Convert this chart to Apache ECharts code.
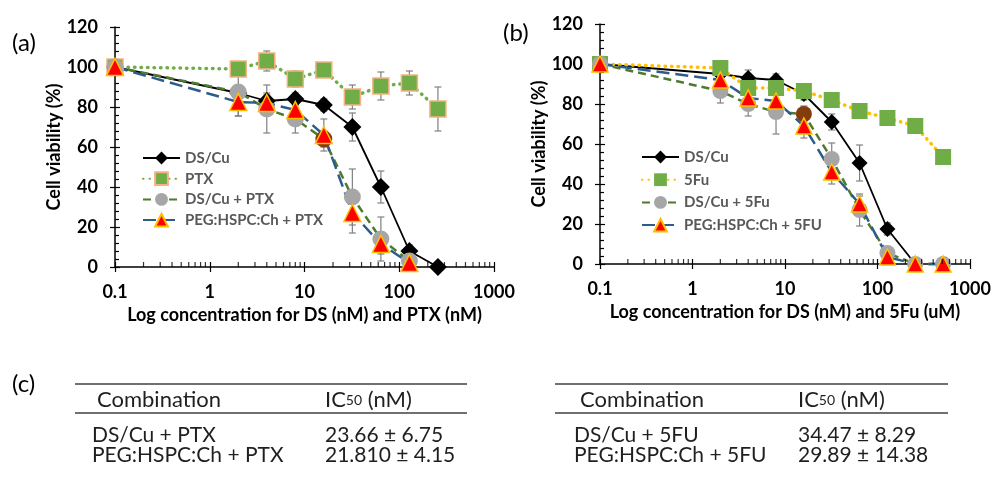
<!DOCTYPE html>
<html><head><meta charset="utf-8">
<script src="https://cdn.jsdelivr.net/npm/echarts@6/dist/echarts.min.js"></script>
<style>html,body{margin:0;padding:0;background:#fff}#c{width:992px;height:479px}</style>
</head><body><div id="c"></div><script>
// ---- data ----
const concA = [0.1, 2, 4, 8, 16, 32, 64, 128, 256];
const dsCuA = [100, 87, 83, 84, 81, 70, 40, 8, 0];
const dsCuAErr = [0, 3, 3, 3, 3, 7, 8, 3, 0];
const ptxA = [100, 99, 103, 94, 98.5, 85, 90.5, 92, 79];
const ptxAErr = [0, 2, 5, 4, 2, 6, 7, 6, 11];
const comboA = [100, 87.5, 79, 74, 64, 35, 14, 3];
const comboAErr = [0, 12, 12, 7, 4, 14, 11, 2];
const pegA = [100, 82.5, 82, 78.5, 66, 27, 11.5, 2];
const pegAErr = [0, 7, 5, 5, 8, 10, 5, 2];

const concB = [0.1, 2, 4, 8, 16, 32, 64, 128, 256, 512];
const dsCuB = [100, 95, 93, 92, 85, 71, 50.5, 17.5, 0];
const dsCuBErr = [0, 2, 4, 3, 3, 4, 9, 3, 0];
const fuB = [100, 98, 88, 88, 86.5, 82, 76.5, 73, 69, 53.5];
const fuBErr = [0, 1, 2, 2, 2, 1, 3, 2, 1, 3];
const comboB = [100, 86.5, 80, 76, 75, 52.5, 27, 5.5, 0, 0];
const comboBErr = [0, 6, 6, 11, 4, 8, 8, 3, 0, 0];
const pegB = [100, 92, 83, 81.5, 69, 46, 30, 3.5, 0, 0];
const pegBErr = [0, 3, 3, 3, 6, 6, 4, 3, 0, 0];

const namesA = ['DS/Cu', 'PTX', 'DS/Cu + PTX', 'PEG:HSPC:Ch + PTX'];
const namesB = ['DS/Cu', '5Fu', 'DS/Cu + 5Fu', 'PEG:HSPC:Ch + 5FU'];
const yTicks = [0, 20, 40, 60, 80, 100, 120];
const xMin = 0.1, xMax = 1000;
const highlightConc = 16; // point drawn in brown in the combination series

const tableHeader = ['Combination', 'IC50 (nM)'];
const tableA = [['DS/Cu + PTX', '23.66 ± 6.75'], ['PEG:HSPC:Ch + PTX', '21.810 ± 4.15']];
const tableB = [['DS/Cu + 5FU', '34.47 ± 8.29'], ['PEG:HSPC:Ch + 5FU', '29.89 ± 14.38']];

// ---- helpers ----
const FONT = 'Lato';
function pairs(xs, ys, brown) {
  return ys.map((v, i) => (brown && xs[i] === highlightConc)
    ? { value: [xs[i], v], itemStyle: { color: '#843C0C' } }
    : [xs[i], v]);
}
function errs(xs, ys, es) {
  return ys.map((v, i) => [xs[i], v - es[i], v + es[i]]).filter((d, i) => es[i] > 0);
}
const minorTicks = [];
for (let e = -1; e <= 2; e++) for (let k = 2; k <= 9; k++) minorTicks.push([Number((k * Math.pow(10, e)).toPrecision(2)), 0]);

function renderErr(params, api) {
  const x = api.value(0), lo = api.value(1), hi = api.value(2);
  const p1 = api.coord([x, hi]), p2 = api.coord([x, lo]);
  const w = 3.5;
  const st = { stroke: '#808080', lineWidth: 1.2, fill: null };
  return { type: 'group', children: [
    { type: 'line', shape: { x1: p1[0], y1: p1[1], x2: p2[0], y2: p2[1] }, style: st },
    { type: 'line', shape: { x1: p1[0] - w, y1: p1[1], x2: p1[0] + w, y2: p1[1] }, style: st },
    { type: 'line', shape: { x1: p2[0] - w, y1: p2[1], x2: p2[0] + w, y2: p2[1] }, style: st }
  ] };
}

function xAxes(gi, title) {
  const base = { gridIndex: gi, type: 'log', logBase: 10, min: xMin, max: xMax, position: 'bottom', splitLine: { show: false } };
  return [
    Object.assign({}, base, {
      axisLine: { lineStyle: { color: '#000', width: 1.5 } },
      axisTick: { length: 5, lineStyle: { color: '#000', width: 1.2 } },
      axisLabel: { color: '#000', fontFamily: FONT, fontWeight: 'bold', fontSize: 18, margin: 16,
        formatter: v => String(Number(Number(v).toPrecision(3))) },
      name: title, nameLocation: 'middle', nameGap: 38,
      nameTextStyle: { color: '#000', fontFamily: FONT, fontWeight: 'bold', fontSize: 18 }
    }),
    Object.assign({}, base, {
      axisLine: { show: false }, axisLabel: { show: false },
      axisTick: { inside: true, length: 5, lineStyle: { color: '#000', width: 1.2 } }
    })
  ];
}
function yAxes(gi) {
  const base = { gridIndex: gi, type: 'value', min: yTicks[0], max: yTicks[yTicks.length - 1], interval: yTicks[1] - yTicks[0], position: 'left', splitLine: { show: false } };
  return [
    Object.assign({}, base, {
      axisLine: { show: true, lineStyle: { color: '#000', width: 1.5 } },
      axisTick: { show: true, length: 5, lineStyle: { color: '#000', width: 1.2 } },
      axisLabel: { color: '#000', fontFamily: FONT, fontWeight: 'bold', fontSize: 18, margin: 17 },
      name: 'Cell viability (%)', nameLocation: 'middle', nameGap: 48,
      nameTextStyle: { color: '#000', fontFamily: FONT, fontWeight: 'bold', fontSize: 18 }
    }),
    Object.assign({}, base, {
      axisLine: { show: false }, axisLabel: { show: false },
      axisTick: { show: true, inside: true, length: 5, lineStyle: { color: '#000', width: 1.2 } },
      minorTick: { show: true, splitNumber: 5, length: 4, lineStyle: { color: '#000', width: 1.2 } }
    })
  ];
}

function panelSeries(xi, conc, names, d, dErr, s2, s2Err, s2Style, c, cErr, p, pErr, sizes) {
  const ax = { xAxisIndex: xi, yAxisIndex: xi };
  const out = [];
  [[d, dErr], [s2, s2Err], [c, cErr], [p, pErr]].forEach(([v, e]) => {
    out.push(Object.assign({ type: 'custom', renderItem: renderErr, data: errs(conc, v, e), z: 1, silent: true,
      encode: { x: 0, y: [1, 2] }, clip: false }, ax));
  });
  out.push(Object.assign({ type: 'line', name: names[0], data: pairs(conc, d), symbol: 'diamond', symbolSize: sizes[0],
    lineStyle: { color: '#000', width: 1.8 }, itemStyle: { color: '#000' }, z: 3, clip: false }, ax));
  out.push(Object.assign({ type: 'line', name: names[1], data: pairs(conc, s2), symbol: 'rect', symbolSize: sizes[1],
    lineStyle: s2Style.line, itemStyle: s2Style.item, z: 3, clip: false }, ax));
  out.push(Object.assign({ type: 'line', name: names[2], data: pairs(conc, c, true), symbol: 'circle', symbolSize: sizes[2],
    lineStyle: { color: '#4E7A2E', width: 2.5, type: [8, 5] }, itemStyle: { color: '#A6A6A6' }, z: 3, clip: false }, ax));
  out.push(Object.assign({ type: 'line', name: names[3], data: pairs(conc, p), symbol: 'triangle', symbolSize: sizes[3],
    lineStyle: { color: '#2E5C8A', width: 2.5, type: [13, 6] }, itemStyle: { color: '#FF0000', borderColor: '#FFC000', borderWidth: 1.5 }, z: 3, clip: false }, ax));
  out.push(Object.assign({ type: 'scatter', data: minorTicks, symbol: 'rect', symbolSize: [1.2, 5], symbolOffset: [0, -2.5],
    itemStyle: { color: '#000' }, silent: true, z: 4, clip: false }, ax));
  return out;
}

const series = [].concat(
  panelSeries(0, concA, namesA, dsCuA, dsCuAErr, ptxA, ptxAErr,
    { line: { color: '#70AD47', width: 3.5, type: [0.5, 6], cap: 'round' }, item: { color: '#70AD47', borderColor: '#F4B183', borderWidth: 1.5 } },
    comboA, comboAErr, pegA, pegAErr, [18, 16, 17, 17]),
  panelSeries(2, concB, namesB, dsCuB, dsCuBErr, fuB, fuBErr,
    { line: { color: '#FFC000', width: 3.5, type: [0.5, 6], cap: 'round' }, item: { color: '#70AD47' } },
    comboB, comboBErr, pegB, pegBErr, [16, 16, 16, 16])
);

const legendText = { color: '#595959', fontFamily: FONT, fontWeight: 'bold', fontSize: 15, lineHeight: 16 };

// table graphics
const tf = '22px ' + FONT;
const rf = '21px ' + FONT;
const tcol = '#1f1f1f';
function tableGraphics(x0, x1, cx, vx, hx, rows) {
  const g = [];
  g.push({ type: 'line', shape: { x1: x0, y1: 384, x2: x1, y2: 384 }, style: { stroke: '#404040', lineWidth: 1.5 } });
  g.push({ type: 'line', shape: { x1: x0, y1: 413, x2: x1, y2: 413 }, style: { stroke: '#404040', lineWidth: 1.5 } });
  g.push({ type: 'text', x: hx, y: 400, style: { text: tableHeader[0], font: tf, fill: tcol, verticalAlign: 'middle' } });
  g.push({ type: 'text', x: vx, y: 400, style: { text: '{a|IC}{s|50}{a| (nM)}', verticalAlign: 'middle',
    rich: { a: { font: tf, fill: tcol, fontFamily: FONT, fontSize: 22 }, s: { fontFamily: FONT, fontSize: 14, fill: tcol } } } });
  rows.forEach((r, i) => {
    g.push({ type: 'text', x: cx, y: 435 + i * 20, style: { text: r[0], font: rf, fill: tcol, verticalAlign: 'middle' } });
    g.push({ type: 'text', x: vx, y: 435 + i * 20, style: { text: r[1], font: rf, fill: tcol, verticalAlign: 'middle' } });
  });
  return g;
}

const option = {
  backgroundColor: '#fff',
  animation: false,
  grid: [
    { left: 115, top: 27, width: 379, height: 240, containLabel: false, outerBoundsMode: 'none' },
    { left: 600, top: 24, width: 370, height: 240, containLabel: false, outerBoundsMode: 'none' }
  ],
  xAxis: [].concat(xAxes(0, 'Log concentration for DS (nM) and PTX (nM)'), xAxes(1, 'Log concentration for DS (nM) and 5Fu (uM)')),
  yAxis: [].concat(yAxes(0), yAxes(1)),
  legend: [
    { data: namesA, orient: 'vertical', left: 137, top: 145, itemWidth: 37, itemHeight: 16, itemGap: 4.7, textStyle: legendText, selectedMode: false },
    { data: namesB, orient: 'vertical', left: 636, top: 144, itemWidth: 37, itemHeight: 16, itemGap: 6.7, textStyle: legendText, selectedMode: false }
  ],
  graphic: [
    { type: 'text', x: 12, y: 43, style: { text: '(a)', font: '24px ' + FONT, fill: '#000', verticalAlign: 'middle' } },
    { type: 'text', x: 503, y: 33, style: { text: '(b)', font: '24px ' + FONT, fill: '#000', verticalAlign: 'middle' } },
    { type: 'text', x: 12, y: 384, style: { text: '(c)', font: '24px ' + FONT, fill: '#000', verticalAlign: 'middle' } }
  ].concat(tableGraphics(75, 467, 92, 325, 97, tableA), tableGraphics(555, 948, 574, 798, 580, tableB)),
  series: series
};
const chart = echarts.init(document.getElementById('c'), null, { renderer: 'canvas' });
chart.setOption(option);
</script></body></html>
